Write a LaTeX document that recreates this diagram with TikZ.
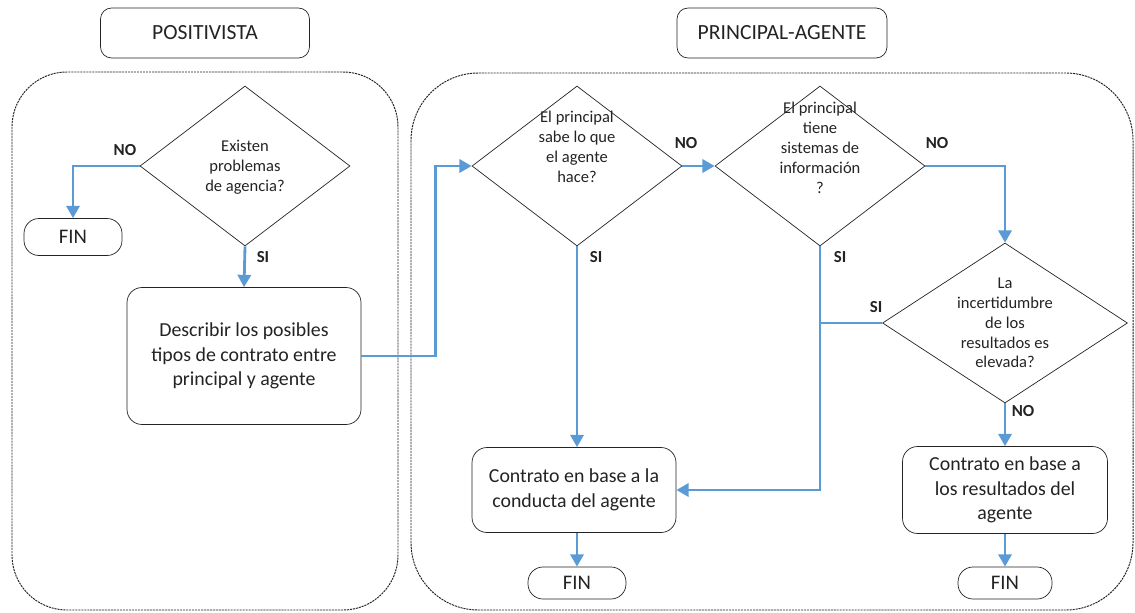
\documentclass[tikz,border=0pt]{standalone}
\usepackage{fontspec}
\setmainfont{Carlito}
\usepackage{tikz}
\usetikzlibrary{arrows.meta, positioning, shapes.geometric}
\definecolor{flowblue}{RGB}{91,155,213}
\definecolor{inkgray}{RGB}{35,35,35}

\begin{document}
\begin{tikzpicture}[x=0.02cm, y=-0.02cm,
    every node/.style={text=inkgray},
    titlebox/.style={draw=inkgray, rounded corners=0.22cm, minimum width=4.18cm,
                     minimum height=1cm, font=\fontsize{12.3}{14}\selectfont},
    stepbox/.style={draw=inkgray, rounded corners=0.3cm, align=center,
                    font=\fontsize{11.3}{14}\selectfont},
    decision/.style={draw=inkgray, diamond, inner sep=0pt, minimum width=4.2cm,
                     minimum height=3.2cm},
    qtext/.style={align=center, font=\fontsize{9.4}{11.3}\selectfont},
    endbox/.style={draw=inkgray, rounded corners=0.3cm, minimum width=1.96cm,
                   minimum height=0.64cm, font=\fontsize{11.8}{14}\selectfont},
    flow/.style={draw=flowblue, line width=1.6pt, -{Triangle[length=7pt,width=7.5pt]}},
    flowline/.style={draw=flowblue, line width=1.6pt},
    lab/.style={font=\fontsize{9.6}{11}\selectfont\bfseries},
    frame/.style={draw=inkgray, line width=0.55pt, dash pattern=on 1.2pt off 0.5pt}]
  \useasboundingbox (0,0) rectangle (1135,612);

  % containers
  \draw[frame, rounded corners=1.1cm] (12,72) rectangle (398,610);
  \draw[frame, rounded corners=1.35cm] (411,73) rectangle (1133,610);
  \node[titlebox] (tpos) at (205,33) {POSITIVISTA};
  \node[titlebox, minimum width=4.2cm] (tpa) at (782,33) {PRINCIPAL-AGENTE};

  % positivista
  \node[decision] (d1) at (245,166) {};
  \node[qtext] (t1) at (245,167) {Existen\\problemas\\de agencia?};
  \node[endbox, minimum height=0.74cm] (fin1) at (73,237) {FIN};
  \node[stepbox, minimum width=4.68cm, minimum height=2.74cm] (desc) at (244,356)
        {Describir los posibles\\tipos de contrato entre\\principal y agente};

  % principal-agente
  \node[decision] (d2) at (577,166) {};
  \node[qtext] (t2) at (577,147) {El principal\\sabe lo que\\el agente\\hace?};
  \node[decision] (d3) at (820,166) {};
  \node[qtext] (t3) at (820,148) {El principal\\tiene\\sistemas de\\información\\?};
  \node[decision, minimum width=4.9cm] (d4) at (1005,323) {};
  \node[qtext] (t4) at (1005,323) {La\\incertidumbre\\de los\\resultados es\\elevada?};
  \node[stepbox, minimum width=4.08cm, minimum height=1.7cm] (conduct) at (574,490)
        {Contrato en base a la\\conducta del agente};
  \node[stepbox, minimum width=4.1cm, minimum height=1.74cm] (result) at (1005,490)
        {Contrato en base a\\los resultados del\\agente};
  \node[endbox] (fin2) at (577,583) {FIN};
  \node[endbox, minimum width=1.88cm] (fin3) at (1005,583) {FIN};

  % connectors
  \draw[flow] (d1.west) -| (fin1.north);
  \draw[flow] (d1.south) -- (desc.north);
  \draw[flow] (desc.east) -- ++(74,0) |- (d2.west);
  \draw[flow] (d2.east) -- (d3.west);
  \draw[flow] (d2.south) -- (d2.south |- conduct.north);
  \draw[flow] (d3.east) -| (d4.north);
  \draw[flow] (d3.south) |- (conduct.east);
  \draw[flowline] (d4.west) -- (d4.west -| d3.south);
  \draw[flow] (d4.south) -- (result.north);
  \draw[flow] (conduct.south -| fin2.north) -- (fin2.north);
  \draw[flow] (result.south) -- (fin3.north);

  \node[lab] (no1) at (125,150) {NO};
  \node[lab] (si1) at (263,257) {SI};
  \node[lab] (no2) at (686,143) {NO};
  \node[lab] (si2) at (596,257) {SI};
  \node[lab] (no3) at (937,143) {NO};
  \node[lab] (si3) at (840,257) {SI};
  \node[lab] (si4) at (876,307) {SI};
  \node[lab] (no4) at (1023,411) {NO};
\end{tikzpicture}
\end{document}
